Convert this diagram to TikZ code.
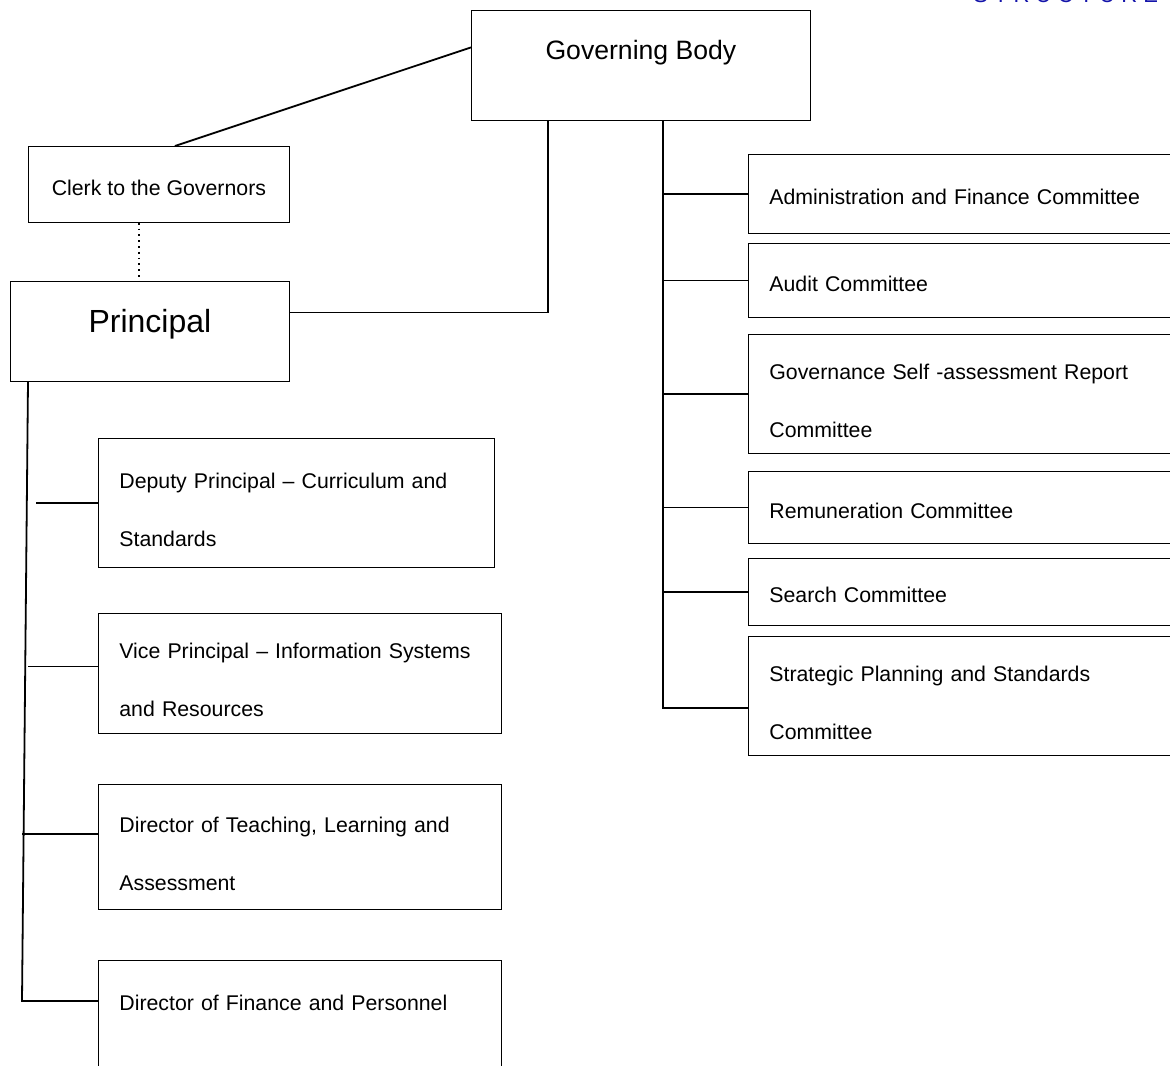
\documentclass[tikz,border=0pt]{standalone}
\usepackage{fontspec}
\setmainfont{Liberation Sans}
\usetikzlibrary{positioning}
\definecolor{headblue}{RGB}{20,20,170}
\tikzset{
	x=0.5pt, y=-0.5pt, % one unit is one pixel of the page, counted downwards
	line width=0.9pt, % all lines and borders
	post/.style={draw, rectangle, anchor=north west, inner xsep=10.5pt, inner ysep=0pt, align=left, font=\fontsize{10.65}{29}\selectfont}, % a box of the chart
	oneline/.style={post, execute at begin node={\rule{0pt}{11pt}}}, % one line of text, set a bit low
	twoline/.style={post, execute at begin node={\rule{0pt}{14.5pt}}}, % two lines of text, set a bit low
	head/.style={draw, rectangle, anchor=north west, inner sep=0pt, align=center}, % a box with centred text
	link/.style={line width=0.9pt}, % the lines between boxes
}
\begin{document}
\begin{tikzpicture}
	\useasboundingbox (0,0) rectangle (1170,1065);
	\node[text=headblue, anchor=base west, inner sep=0pt, font=\fontsize{11}{13}\selectfont] (title) at (973,2.5) {S T R U C T U R E};

	% top of the chart
	\node[head, minimum width=169.5pt, minimum height=55pt, text height=10pt, text depth=15.5pt, font=\fontsize{13.3}{16}\selectfont] (gov) at (471,10) {Governing Body};
	\node[head, minimum width=130.5pt, minimum height=38pt, text height=12pt, text depth=1pt, font=\fontsize{10.65}{13}\selectfont] (clerk) at (28,146) {Clerk to the Governors};
	\node[head, minimum width=139.5pt, minimum height=50pt, text height=12pt, text depth=10.5pt, font=\fontsize{16}{19}\selectfont] (principal) at (10,281) {Principal};

	% staff under the principal
	\node[twoline, minimum width=198pt, text width=177pt, minimum height=64.5pt] (deputy) at (98,438) {Deputy Principal -- Curriculum and\\Standards};
	\node[twoline, minimum width=201.5pt, text width=180.5pt, minimum height=60pt] (vice) at (98,613) {Vice Principal -- Information Systems\\and Resources};
	\node[twoline, minimum width=201.5pt, text width=180.5pt, minimum height=62.5pt] (teaching) at (98,784) {Director of Teaching, Learning and\\Assessment};
	\node[twoline, minimum width=201.5pt, text width=180.5pt, minimum height=64.5pt] (finance) at (98,960) {Director of Finance and Personnel\\\mbox{}};

	% committees of the governing body
	\node[oneline, minimum width=220pt, text width=199pt, minimum height=39.5pt] (admin) at (748,154) {Administration and Finance Committee};
	\node[oneline, minimum width=220pt, text width=199pt, minimum height=37pt] (audit) at (748,243) {Audit Committee};
	\node[twoline, minimum width=220pt, text width=199pt, minimum height=59.5pt] (selfrep) at (748,334) {Governance Self -assessment Report\\Committee};
	\node[oneline, minimum width=220pt, text width=199pt, minimum height=36pt] (remun) at (748,471) {Remuneration Committee};
	\node[oneline, minimum width=220pt, text width=199pt, minimum height=33.5pt] (search) at (748,558) {Search Committee};
	\node[twoline, minimum width=220pt, text width=199pt, minimum height=59.5pt] (strat) at (748,636) {Strategic Planning and Standards\\Committee};

	% bus points
	\coordinate (govL) at ([xshift=38.5pt]gov.south west);
	\coordinate (govR) at ([xshift=96pt]gov.south west);
	\coordinate (busTop) at ([xshift=9pt]principal.south west);
	\coordinate (finL) at ([yshift=-20.5pt]finance.north west);
	\coordinate (busBot) at ([xshift=6pt]principal.south west |- finL);

	\draw[link] ([xshift=8pt]clerk.north) -- ([yshift=9pt]gov.west);
	\draw[link, dotted, line width=0.6pt] ([xshift=-10pt]clerk.south) -- ([xshift=-10pt]clerk.south |- principal.north);
	\draw[link] ([yshift=9.5pt]principal.east) -| (govL);

	% left side
	\draw[link] (busTop) -- (busBot) -- (finL);
	\draw[link] (deputy.west) -- ++(-31pt,0);
	\draw[link] ([yshift=3.5pt]vice.west) -- ([yshift=3.5pt]vice.west -| busTop);
	\draw[link] ([yshift=6.5pt]teaching.west) -- ([yshift=6.5pt]teaching.west -| busBot);

	% right side
	\draw[link] (govR) |- ([yshift=-6pt]strat.west);
	\foreach \c in {admin, audit, selfrep, remun, search}
		\draw[link] (\c.west) -- (\c.west -| govR);
\end{tikzpicture}
\end{document}
